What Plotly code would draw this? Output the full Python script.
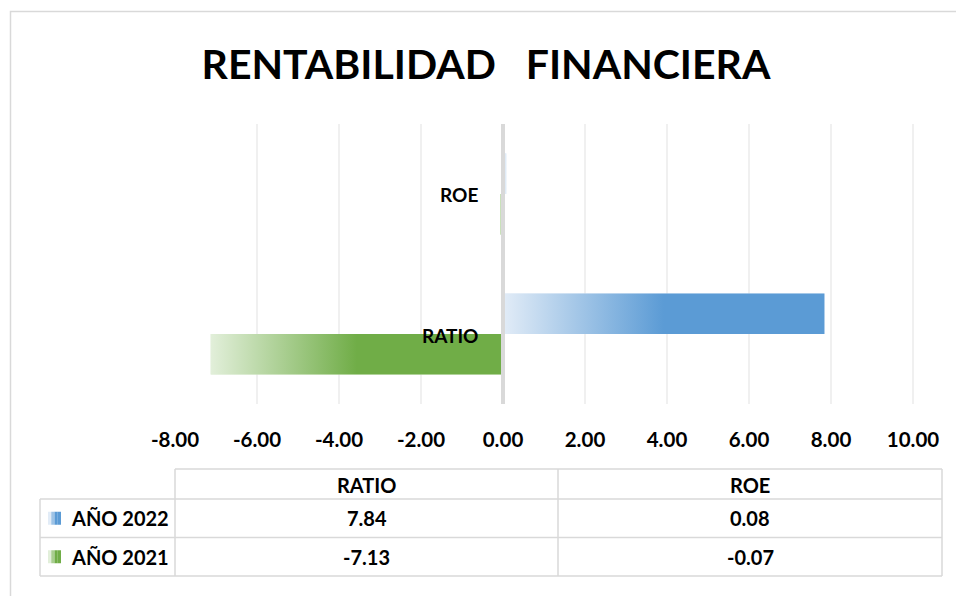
import plotly.graph_objects as go

# ---------------- data ----------------
categories = ["RATIO", "ROE"]
series_names = ["AÑO 2022", "AÑO 2021"]
anio_2022 = [7.84, 0.08]
anio_2021 = [-7.13, -0.07]
x_tick_values = [-8, -6, -4, -2, 0, 2, 4, 6, 8, 10]
x_tick_labels = [f"{v:.2f}" for v in x_tick_values]
title_text = "RENTABILIDAD   FINANCIERA"

# ---------------- geometry / style ----------------
W, H = 956, 596
L, R, T, B = 175, 14, 124, 192
PW, PH = W - L - R, H - T - B
px_per_unit = 41.0
x_min = -8
x_max = x_min + PW / px_per_unit
bar_w = 0.29
FONT = "Lato"
BLUE, BLUE_L = "#5b9bd5", "#e2ecf7"
GREEN, GREEN_L = "#70ad47", "#e2efda"
GRID = "#d9d9d9"


def px_x(p):
    return (p - L) / PW


def px_y(p):
    return (H - B - p) / PH


idx = list(range(len(categories)))
fig = go.Figure()

series = [
    ("AÑO 2021", anio_2021, GREEN, GREEN_L, -bar_w),
    ("AÑO 2022", anio_2022, BLUE, BLUE_L, 0.0),
]

for name, vals, col, light, off in series:
    fig.add_trace(go.Bar(
        name=name, y=idx, x=vals, orientation="h",
        width=bar_w, offset=off, marker=dict(color=light, line=dict(width=0)),
        showlegend=False, hoverinfo="x+name",
    ))

# gradient overlays built from the same values
for name, vals, col, light, off in series:
    for i, v in zip(idx, vals):
        y0, y1 = i + off, i + off + bar_w
        grad = dict(type="horizontal", colorscale=[[0, light], [0.5, col], [1, col]])
        if min(vals) >= 0:
            grad.update(start=0, stop=max(vals))
        fig.add_trace(go.Scatter(
            x=[0, v, v, 0, 0], y=[y0, y0, y1, y1, y0],
            mode="none", fill="toself", fillgradient=grad,
            showlegend=False, hoverinfo="skip",
        ))

annotations = []
shapes = []

# zero line drawn above the bars (as in the original)
shapes.append(dict(type="line", xref="x", yref="paper", x0=0, x1=0, y0=0, y1=1,
                   line=dict(color=GRID, width=4), layer="above"))

# category labels next to the zero line
for i, c in zip(idx, categories):
    annotations.append(dict(
        x=0, y=i, xref="x", yref="y", text=c, showarrow=False,
        xanchor="right", yanchor="middle", xshift=-23, yshift=-1 if i == 0 else 0,
        font=dict(family=FONT, size=19, color="#000000", weight=700),
    ))

# ---------------- data table ----------------
tb_top, tb_head, tb_r1, tb_bot = 469, 499, 537.5, 576
col_x = [40, 175, 558, 942]
line = dict(color=GRID, width=1.5)

for yy, x0 in [(tb_top, col_x[1]), (tb_head, col_x[0]), (tb_r1, col_x[0]), (tb_bot, col_x[0])]:
    shapes.append(dict(type="line", xref="paper", yref="paper",
                       x0=px_x(x0), x1=px_x(col_x[3]), y0=px_y(yy), y1=px_y(yy), line=line))
for j, xx in enumerate(col_x):
    ytop = tb_head if j == 0 else tb_top
    shapes.append(dict(type="line", xref="paper", yref="paper",
                       x0=px_x(xx), x1=px_x(xx), y0=px_y(ytop), y1=px_y(tb_bot), line=line))

tfont = dict(family=FONT, size=20, color="#000000", weight=700)
head_y = (tb_top + tb_head) / 2
row_y = [(tb_head + tb_r1) / 2, (tb_r1 + tb_bot) / 2]
col_cx = [(col_x[1] + col_x[2]) / 2, (col_x[2] + col_x[3]) / 2]

for cx, c in zip(col_cx, categories):
    annotations.append(dict(x=px_x(cx), y=px_y(head_y + 1), xref="paper", yref="paper",
                            text=c, showarrow=False, font=tfont,
                            xanchor="center", yanchor="middle"))

table_rows = [("AÑO 2022", anio_2022, BLUE, BLUE_L), ("AÑO 2021", anio_2021, GREEN, GREEN_L)]
for ry, (name, vals, col, light) in zip(row_y, table_rows):
    annotations.append(dict(x=px_x(69), y=px_y(ry), xref="paper", yref="paper",
                            text=name, showarrow=False, font=tfont,
                            xanchor="left", yanchor="middle"))
    for cx, v in zip(col_cx, vals):
        annotations.append(dict(x=px_x(cx), y=px_y(ry), xref="paper", yref="paper",
                                text=f"{v:.2f}", showarrow=False, font=tfont,
                                xanchor="center", yanchor="middle"))
    # legend key: small stepped gradient square
    mid = "#" + "".join(
        f"{(int(light[k:k+2], 16) + int(col[k:k+2], 16)) // 2:02x}" for k in (1, 3, 5))
    steps = [light, mid, col, col]
    kx0, kw, kh = 48, 13, 13
    for s, sc in enumerate(steps):
        shapes.append(dict(type="rect", xref="paper", yref="paper",
                           x0=px_x(kx0 + s * kw / 4), x1=px_x(kx0 + (s + 1) * kw / 4),
                           y0=px_y(ry - kh / 2), y1=px_y(ry + kh / 2),
                           line=dict(width=0), fillcolor=sc))

# outer chart border
shapes.append(dict(type="rect", xref="paper", yref="paper",
                   x0=px_x(10.5), x1=px_x(W + 20), y0=px_y(11.5), y1=px_y(H + 20),
                   line=dict(color=GRID, width=1.5), fillcolor="rgba(0,0,0,0)", layer="below"))

fig.update_layout(
    width=W, height=H,
    margin=dict(l=L, r=R, t=T, b=B, pad=0),
    paper_bgcolor="white", plot_bgcolor="white",
    barmode="overlay",
    title=dict(text=title_text, x=486 / W, xanchor="center", xref="container",
               y=1 - 65 / H, yanchor="middle", yref="container",
               font=dict(family=FONT, size=41, color="#000000", weight=700)),
    xaxis=dict(range=[x_min, x_max], tickvals=x_tick_values, ticktext=x_tick_labels,
               showgrid=True, gridcolor="#f0f0f0", gridwidth=2,
               zeroline=False, showline=False, ticks="", ticklabelstandoff=21,
               tickfont=dict(family=FONT, size=20.5, color="#000000", weight=700),
               fixedrange=True),
    yaxis=dict(range=[-0.5, 1.5], showticklabels=False, showgrid=False,
               zeroline=False, showline=False, fixedrange=True),
    annotations=annotations, shapes=shapes,
    showlegend=False,
)

fig.write_html("out.html", config={"displayModeBar": False},
               post_script="document.body.style.margin='0';")
